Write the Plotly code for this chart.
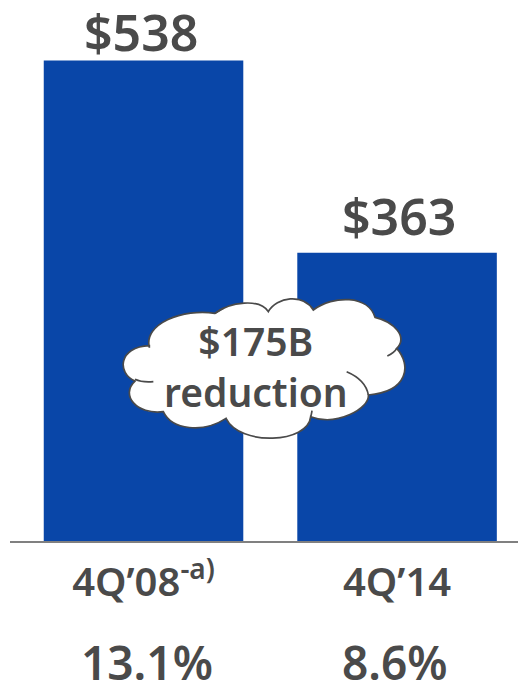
import plotly.graph_objects as go

categories = ["4Q’08<sup>-a)</sup>", "4Q’14"]
values = [538, 363]
bar_labels = ["$538", "$363"]
percents = ["13.1%", "8.6%"]
callout = "$175B<br>reduction"

W, H = 518, 681
LEFT, BASE = 10, 541
TEXT = "#4a4a4a"
BLUE = "#0946a8"
FONT = "Noto Sans"


def pt(zx, zy):
    px = 100 + zx / 3
    py = 280 + zy / 3
    return f"{(px - LEFT) / (W - LEFT):.4f},{(BASE - py) / BASE:.4f}"


def curve(*pts):
    return "C" + " ".join(pt(*p) for p in pts)


cloud = (
    "M" + pt(148, 203)
    + curve((130, 130), (250, 85), (345, 100))
    + curve((390, 65), (480, 55), (505, 95))
    + curve((530, 50), (610, 40), (640, 90))
    + curve((700, 45), (805, 45), (825, 112))
    + curve((880, 125), (925, 170), (890, 205))
    + curve((935, 255), (925, 335), (805, 345))
    + curve((810, 385), (710, 440), (632, 410))
    + curve((625, 490), (420, 500), (378, 415))
    + curve((310, 460), (215, 450), (190, 395))
    + curve((110, 405), (60, 345), (105, 303))
    + curve((50, 280), (55, 200), (148, 197))
    + "Z"
)
cloud_tails = (
    "M" + pt(105, 298) + curve((120, 305), (140, 307), (160, 305))
    + " M" + pt(890, 205) + curve((885, 215), (875, 222), (862, 228))
    + " M" + pt(740, 275) + curve((775, 290), (800, 315), (805, 345))
    + " M" + pt(632, 410) + curve((634, 405), (635, 398), (636, 392))
    + " M" + pt(345, 100) + curve((355, 94), (365, 88), (372, 84))
)

fig = go.Figure(
    go.Bar(
        x=[0, 1],
        y=values,
        width=0.787,
        marker=dict(color=BLUE, line=dict(width=0)),
        hoverinfo="skip",
    )
)

# axis starts near 100 because that is where the picture's bars sit
fig.update_yaxes(range=[100.5, 593], visible=False)
fig.update_xaxes(
    range=[-0.5266, 1.477],
    tickmode="array",
    tickvals=[0, 1],
    ticktext=categories,
    ticks="",
    showgrid=False,
    showline=True,
    linecolor="#808080",
    linewidth=2,
    tickfont=dict(family=FONT, size=40, color=TEXT, weight=600),
    ticklabelstandoff=5,
)

fig.add_shape(
    type="path", xref="paper", yref="paper", path=cloud,
    fillcolor="white", line=dict(color=TEXT, width=1.7), layer="above",
)
fig.add_shape(
    type="path", xref="paper", yref="paper", path=cloud_tails,
    fillcolor="rgba(0,0,0,0)", line=dict(color=TEXT, width=1.7), layer="above",
)
fig.add_annotation(
    x=(256 - LEFT) / (W - LEFT), xref="paper",
    y=(BASE - 366) / BASE, yref="paper",
    text=callout, showarrow=False,
    font=dict(family=FONT, size=39, color=TEXT, weight=600),
    yanchor="middle",
)
for i, (v, lab) in enumerate(zip(values, bar_labels)):
    fig.add_annotation(
        x=i, y=v, text=lab, showarrow=False, yanchor="bottom",
        yshift=[-8, 1][i], xshift=[-3, 2][i],
        font=dict(family=FONT, size=50, color=TEXT, weight=600),
    )
for i, p in enumerate(percents):
    fig.add_annotation(
        x=i, xref="x", y=-0.223, yref="paper", text=p, showarrow=False,
        xshift=[3, -2][i],
        font=dict(family=FONT, size=46, color=TEXT, weight=600),
        yanchor="middle",
    )

fig.update_layout(
    width=W,
    height=H,
    margin=dict(l=LEFT, r=0, t=0, b=H - BASE),
    paper_bgcolor="white",
    plot_bgcolor="white",
    showlegend=False,
)

# page default margin would push the figure 8px off
fig.write_html(
    "out.html",
    config={"displayModeBar": False},
    post_script="document.body.style.margin='0';",
)
